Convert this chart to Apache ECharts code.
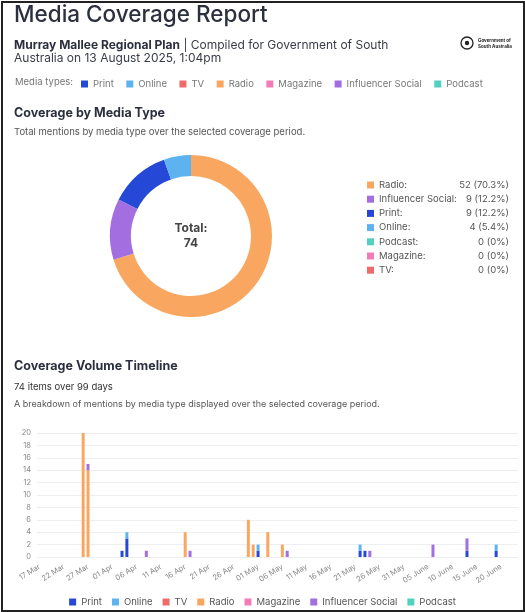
<!DOCTYPE html>
<html>
<head>
<meta charset="utf-8">
<script src="https://cdn.jsdelivr.net/npm/echarts@6/dist/echarts.min.js"></script>
<style>
html,body{margin:0;padding:0;background:#fff;}
#frame{position:absolute;left:1px;top:1px;width:520px;height:607px;border:2px solid #222;}
#chart{position:absolute;left:0;top:0;width:525px;height:612px;}
</style>
</head>
<body>
<div id="frame"></div>
<div id="chart"></div>
<script>
// ---- data ----
var mediaTypes = ['Print', 'Online', 'TV', 'Radio', 'Magazine', 'Influencer Social', 'Podcast'];
var mediaColors = ['#2548d6', '#5cb3f0', '#f06a6a', '#f9a760', '#f27cb8', '#a36fe0', '#52d0c0'];

var pieNames  = ['Radio', 'Influencer Social', 'Print', 'Online', 'Podcast', 'Magazine', 'TV'];
var pieValues = [52, 9, 9, 4, 0, 0, 0];

var dateCategories = [
 '17 Mar','18 Mar','19 Mar','20 Mar','21 Mar','22 Mar','23 Mar','24 Mar','25 Mar','26 Mar','27 Mar','28 Mar','29 Mar','30 Mar','31 Mar',
 '01 Apr','02 Apr','03 Apr','04 Apr','05 Apr','06 Apr','07 Apr','08 Apr','09 Apr','10 Apr','11 Apr','12 Apr','13 Apr','14 Apr','15 Apr',
 '16 Apr','17 Apr','18 Apr','19 Apr','20 Apr','21 Apr','22 Apr','23 Apr','24 Apr','25 Apr','26 Apr','27 Apr','28 Apr','29 Apr','30 Apr',
 '01 May','02 May','03 May','04 May','05 May','06 May','07 May','08 May','09 May','10 May','11 May','12 May','13 May','14 May','15 May',
 '16 May','17 May','18 May','19 May','20 May','21 May','22 May','23 May','24 May','25 May','26 May','27 May','28 May','29 May','30 May','31 May',
 '01 June','02 June','03 June','04 June','05 June','06 June','07 June','08 June','09 June','10 June','11 June','12 June','13 June','14 June',
 '15 June','16 June','17 June','18 June','19 June','20 June','21 June','22 June','23 June'
];
var yTicks = [0, 20, 2]; // min, max, interval

var printData     = [['03 Apr',1],['04 Apr',3],['01 May',1],['22 May',1],['23 May',1],['13 June',1],['19 June',1]];
var onlineData    = [['04 Apr',1],['01 May',1],['22 May',1],['19 June',1]];
var tvData        = [];
var radioData     = [['26 Mar',20],['27 Mar',14],['16 Apr',4],['29 Apr',6],['30 Apr',2],['03 May',4],['06 May',2]];
var magazineData  = [];
var influencerData= [['27 Mar',1],['08 Apr',1],['17 Apr',1],['07 May',1],['24 May',1],['06 June',2],['13 June',2]];
var podcastData   = [];

var seriesData = [printData, onlineData, tvData, radioData, magazineData, influencerData, podcastData];

// ---- derived ----
var total = pieValues.reduce(function(a,b){return a+b;},0);
function pct(v){ if(!v) return '0%'; return (v/total*100).toFixed(1) + '%'; }
var pieColorMap = {};
mediaTypes.forEach(function(n,i){ pieColorMap[n] = mediaColors[i]; });

var FONT = 'Inter, Roboto, sans-serif';

var chart = echarts.init(document.getElementById('chart'), null, {renderer:'canvas'});

var barSeries = mediaTypes.map(function(name, i){
  return {
    name: name, type: 'bar', stack: 'media', xAxisIndex: 0, yAxisIndex: 0,
    barWidth: 3,
    itemStyle: { color: mediaColors[i] },
    data: seriesData[i]
  };
});

var option = {
  animation: false,
  textStyle: { fontFamily: FONT },
  color: mediaColors,
  graphic: [
    { type:'text', left:14, top:4, style:{ text:'Media Coverage Report', font:'500 22.5px '+FONT, fill:'#2b2f3e' } },
    { type:'text', left:14, top:39, style:{ text:'{b|Murray Mallee Regional Plan} | Compiled for Government of South', font:'12px '+FONT, fill:'#3a3d48',
        rich:{ b:{ fontWeight:'bold', fontSize:12, fontFamily:FONT, fill:'#2b2f3e' } } } },
    { type:'text', left:14, top:52, style:{ text:'Australia on 13 August 2025, 1:04pm', font:'12px '+FONT, fill:'#3a3d48' } },
    // logo
    { type:'circle', shape:{ cx:467, cy:43, r:6 }, style:{ fill:'#fff', stroke:'#222', lineWidth:1.3 } },
    { type:'circle', shape:{ cx:467, cy:43, r:2.2 }, style:{ fill:'#222' } },
    { type:'text', left:478, top:38, style:{ text:'Government of\nSouth Australia', font:'bold 4.5px '+FONT, fill:'#222', lineHeight:5.5 } },
    { type:'text', left:15, top:77, style:{ text:'Media types:', font:'9.5px '+FONT, fill:'#777' } },
    { type:'text', left:14, top:107, style:{ text:'Coverage by Media Type', font:'bold 12.5px '+FONT, fill:'#2b2f3e' } },
    { type:'text', left:14, top:127, style:{ text:'Total mentions by media type over the selected coverage period.', font:'9.5px '+FONT, fill:'#555' } },
    { type:'text', x:191, y:228, style:{ text:'Total:', font:'bold 12px '+FONT, fill:'#444', textAlign:'center', textVerticalAlign:'middle' } },
    { type:'text', x:191, y:243, style:{ text:String(total), font:'bold 12px '+FONT, fill:'#444', textAlign:'center', textVerticalAlign:'middle' } },
    { type:'text', left:14, top:360, style:{ text:'Coverage Volume Timeline', font:'bold 12.5px '+FONT, fill:'#2b2f3e' } },
    { type:'text', left:14, top:382, style:{ text: total + ' items over ' + dateCategories.length + ' days', font:'9.5px '+FONT, fill:'#333' } },
    { type:'text', left:14, top:400, style:{ text:'A breakdown of mentions by media type displayed over the selected coverage period.', font:'9px '+FONT, fill:'#555' } }
  ],
  legend: [
    { // top media types legend
      data: mediaTypes, left: 76, top: 74, itemWidth: 7, itemHeight: 7, itemGap: 12.5, icon: 'rect',
      selectedMode: false, textStyle: { fontSize: 9.5, color: '#777', fontFamily: FONT }
    },
    { // pie legend
      data: pieNames, orient: 'vertical', left: 362, top: 175, itemWidth: 7, itemHeight: 7, itemGap: 4.2, icon: 'rect',
      selectedMode: false,
      formatter: function(name){
        var v = pieValues[pieNames.indexOf(name)];
        return '{n|' + name + ':}{v|' + v + ' (' + pct(v) + ')}';
      },
      textStyle: { fontSize: 9.5, color: '#555', fontFamily: FONT,
        rich: { n: { width: 85, fontSize: 9.5, color:'#555' }, v: { width: 45, align: 'right', fontSize: 9.5, color:'#555' } } }
    },
    { // bottom legend
      data: mediaTypes, left: 'center', top: 592, itemWidth: 7, itemHeight: 7, itemGap: 10, icon: 'rect',
      selectedMode: false, textStyle: { fontSize: 9.5, color: '#555', fontFamily: FONT }
    }
  ],
  grid: { left: 37, right: 7, top: 433, bottom: 55 },
  xAxis: {
    type: 'category', data: dateCategories, boundaryGap: true,
    axisLine: { show: false }, axisTick: { show: false },
    axisLabel: { interval: 4, rotate: 32, fontSize: 7.5, color: '#888', margin: 9 }
  },
  yAxis: {
    type: 'value', min: yTicks[0], max: yTicks[1], interval: yTicks[2],
    axisLine: { show: false }, axisTick: { show: false },
    axisLabel: { fontSize: 7.5, color: '#888', margin: 6 },
    splitLine: { lineStyle: { color: '#eceef2', width: 1 } }
  },
  series: barSeries.concat([{
    type: 'pie', name: 'Coverage', center: [191, 236], radius: [60, 81],
    startAngle: 90, clockwise: true, label: { show: false }, labelLine: { show: false },
    silent: true,
    data: pieNames.map(function(n,i){ return { name:n, value:pieValues[i], itemStyle:{ color: pieColorMap[n] } }; })
  }])
};
chart.setOption(option);
</script>
</body>
</html>
